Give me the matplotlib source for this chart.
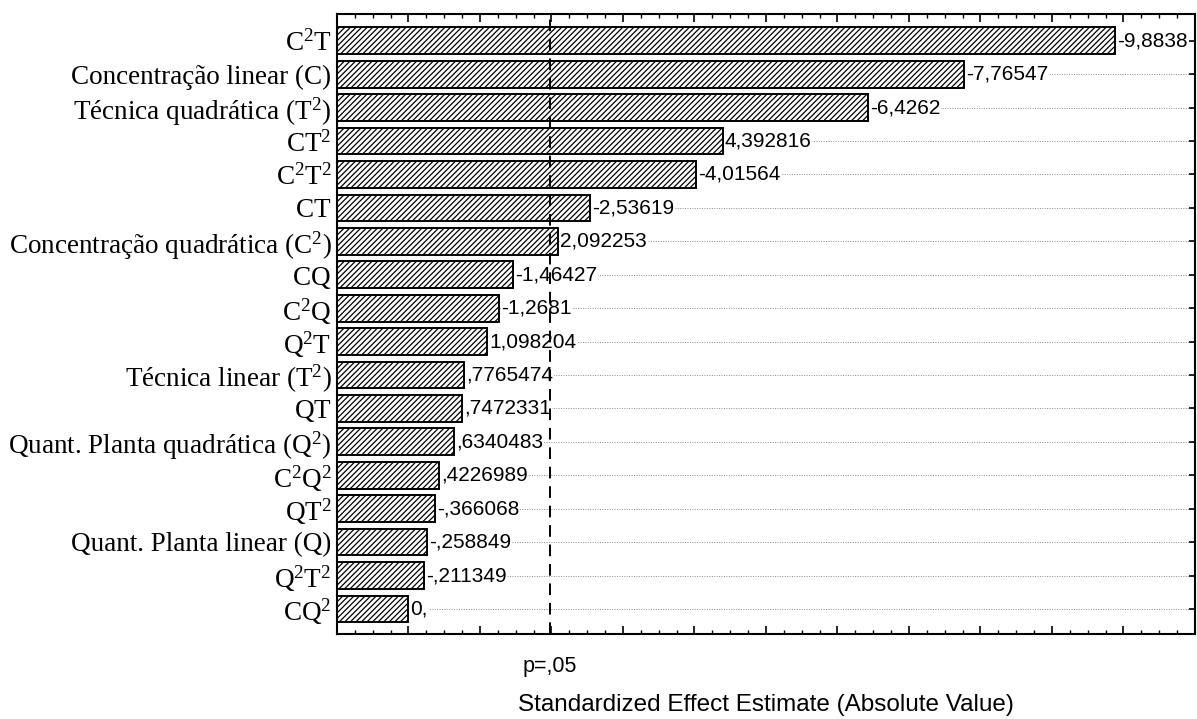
import matplotlib
matplotlib.use("Agg")
import matplotlib.pyplot as plt
from matplotlib.ticker import MultipleLocator

# efeitos padronizados (ordem do gráfico de Pareto, do maior para o menor)
termos = [
    r"$\mathrm{C^2T}$",
    "Concentração linear (C)",
    r"Técnica quadrática ($\mathrm{T^2}$)",
    r"$\mathrm{CT^2}$",
    r"$\mathrm{C^2T^2}$",
    r"$\mathrm{CT}$",
    r"Concentração quadrática ($\mathrm{C^2}$)",
    r"$\mathrm{CQ}$",
    r"$\mathrm{C^2Q}$",
    r"$\mathrm{Q^2T}$",
    r"Técnica linear ($\mathrm{T^2}$)",
    r"$\mathrm{QT}$",
    r"Quant. Planta quadrática ($\mathrm{Q^2}$)",
    r"$\mathrm{C^2Q^2}$",
    r"$\mathrm{QT^2}$",
    "Quant. Planta linear (Q)",
    r"$\mathrm{Q^2T^2}$",
    r"$\mathrm{CQ^2}$",
]
efeitos = [-9.8838, -7.76547, -6.4262, 4.392816, -4.01564, -2.53619,
           2.092253, -1.46427, -1.2681, 1.098204, 0.7765474, 0.7472331,
           0.6340483, 0.4226989, -0.366068, -0.258849, -0.211349, 0.0]
p_limite = 1.98  # t crítico para p = 0,05
x_min, x_max = -1.0, 11.0


def rotulo(v):
    # formato do Statistica: vírgula decimal, sem zero à esquerda
    s = f"{v:.7g}"
    if "." not in s:
        s += "."
    s = s.replace("-0.", "-.")
    if s.startswith("0.") and len(s) > 2:
        s = s[1:]
    return s.replace(".", ",")


plt.rcParams["mathtext.fontset"] = "custom"
plt.rcParams["mathtext.rm"] = "Liberation Serif"
plt.rcParams["hatch.linewidth"] = 0.9

fig = plt.figure(figsize=(11.97, 7.19), dpi=100)
ax = fig.add_axes([0.2815, 0.1182, 0.7168, 0.8623])

pos = list(range(len(termos)))
abs_ef = [abs(v) for v in efeitos]

# linhas pontilhadas de referência em cada termo
for y in pos:
    ax.plot([x_min, x_max], [y, y], color="#8a8a8a", lw=0.7,
            linestyle=(0, (1, 1.5)), zorder=0.5)

ax.barh(pos, [a - x_min for a in abs_ef], left=x_min, height=0.8,
        color="white", edgecolor="black", hatch="//////", linewidth=1.4,
        zorder=2)

for y, a, v in zip(pos, abs_ef, efeitos):
    ax.text(a + 0.03, y, rotulo(v), ha="left", va="center",
            family="Liberation Sans", fontsize=15, zorder=3,
            bbox=dict(facecolor="white", edgecolor="none", pad=0.5))

ax.axvline(p_limite, color="black", lw=1.4, linestyle=(0, (6, 4)), zorder=4)

ax.set_xlim(x_min, x_max)
ax.set_ylim(len(termos) - 1 + 0.75, -0.8)

ax.set_yticks(pos)
ax.set_yticklabels(termos, family="Liberation Serif", fontsize=19.5)
ax.xaxis.set_major_locator(MultipleLocator(1))
ax.xaxis.set_minor_locator(MultipleLocator(0.25))
ax.set_xticklabels([])
ax.tick_params(axis="x", which="major", direction="in", length=6, width=1.2,
               top=True, bottom=True)
ax.tick_params(axis="x", which="minor", direction="in", length=3, width=1,
               top=True, bottom=True)
ax.tick_params(axis="y", direction="in", length=4, width=1.2, pad=4,
               left=True, right=True)

for s in ax.spines.values():
    s.set_linewidth(1.5)

ax.text(p_limite, -0.035, "p=,05", transform=ax.get_xaxis_transform(),
        ha="center", va="top", family="Liberation Sans", fontsize=15.5)
ax.set_xlabel("Standardized Effect Estimate (Absolute Value)",
              family="Liberation Sans", fontsize=17.5, labelpad=40)

fig.savefig("out.png", dpi=100)
